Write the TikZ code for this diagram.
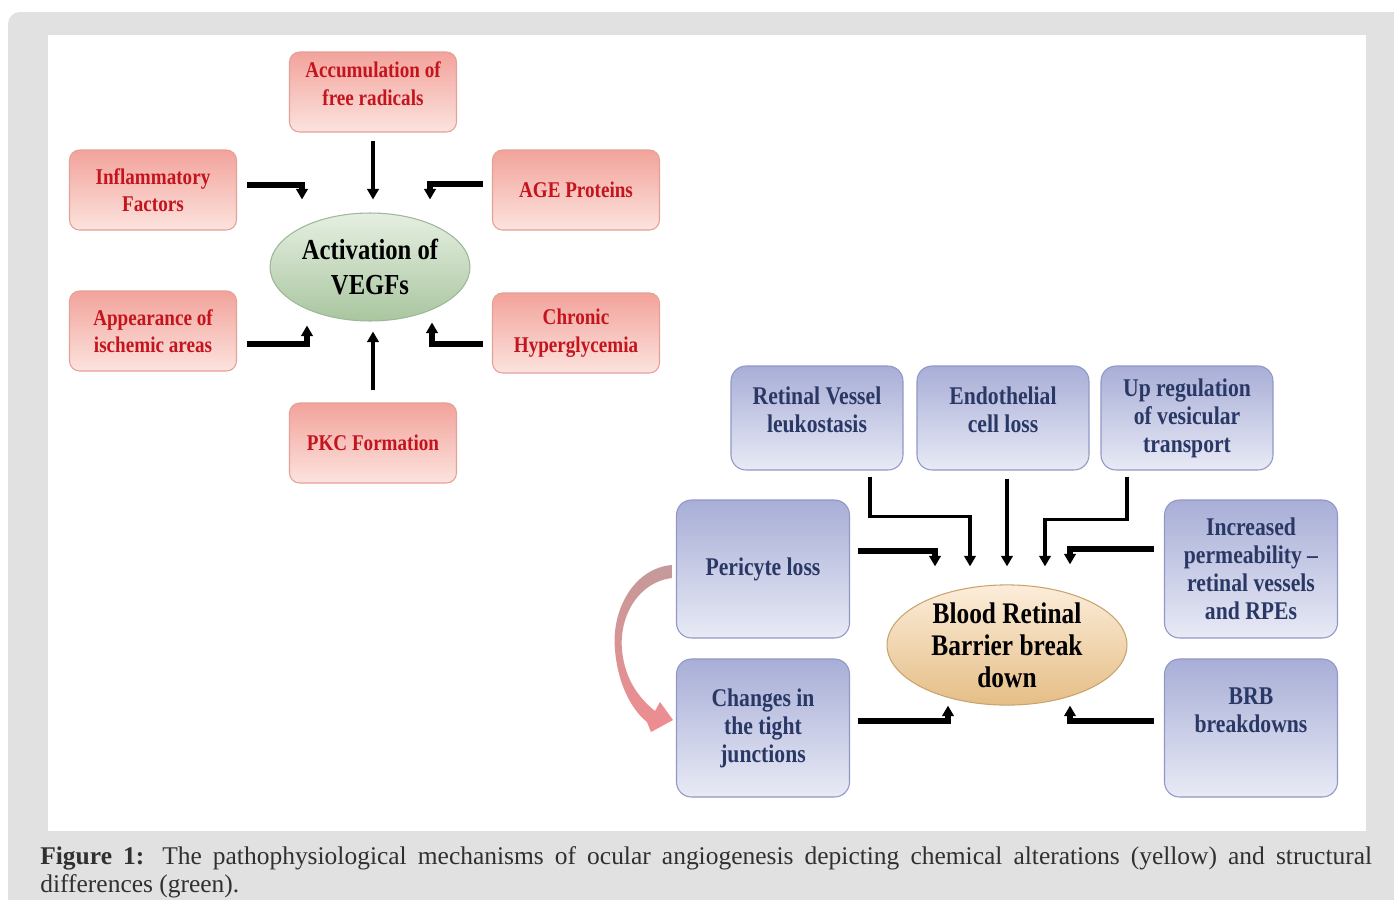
\documentclass[tikz,border=0pt]{standalone}
\usepackage{fontspec}
\setmainfont{Liberation Serif}
\newfontfamily\boxfont{Liberation Serif}[FakeStretch=0.85]
\usetikzlibrary{arrows.meta,positioning,shapes.geometric,calc}
\definecolor{framegray}{HTML}{E1E1E1}
\definecolor{redtop}{HTML}{F2A39B}
\definecolor{redbot}{HTML}{FCE3DE}
\definecolor{redline}{HTML}{E4A197}
\definecolor{redtext}{HTML}{C4141E}
\definecolor{bluetop}{HTML}{A8AED7}
\definecolor{bluebot}{HTML}{E8EAF5}
\definecolor{blueline}{HTML}{8F98C6}
\definecolor{bluetext}{HTML}{2A3866}
\definecolor{greentop}{HTML}{E6EFE2}
\definecolor{greenbot}{HTML}{A9C69F}
\definecolor{greenline}{HTML}{9DB797}
\definecolor{tantop}{HTML}{FCEDDA}
\definecolor{tanbot}{HTML}{E5BE86}
\definecolor{tanline}{HTML}{C7A46E}
\definecolor{pinktop}{HTML}{C49A9A}
\definecolor{pinkbot}{HTML}{F08C90}
\definecolor{captext}{HTML}{303030}
\tikzset{
  redbox/.style={rectangle, rounded corners=0.2cm, draw=redline, line width=0.6pt,
    top color=redtop, bottom color=redbot, minimum width=3.34cm, minimum height=1.6cm,
    align=center, text=redtext, font=\boxfont\bfseries\fontsize{12.8}{15.6}\selectfont},
  bluebox/.style={rectangle, rounded corners=0.3cm, draw=blueline, line width=0.6pt,
    top color=bluetop, bottom color=bluebot, minimum width=3.44cm, minimum height=2.08cm,
    align=center, text=bluetext, font=\boxfont\bfseries\fontsize{14.5}{15.9}\selectfont},
  bigblue/.style={bluebox, minimum width=3.46cm, minimum height=2.76cm},
  vegfell/.style={ellipse, draw=greenline, line width=0.6pt, top color=greentop,
    bottom color=greenbot, minimum width=4cm, minimum height=2.16cm, inner sep=0pt,
    align=center, font=\boxfont\bfseries\fontsize{16.5}{19.8}\selectfont},
  brbell/.style={ellipse, draw=tanline, line width=0.6pt, top color=tantop,
    bottom color=tanbot, minimum width=4.8cm, minimum height=2.2cm, inner sep=0pt,
    align=center, font=\boxfont\bfseries\fontsize{17}{18.2}\selectfont},
  arr/.style={draw=black, line width=2pt, -{Triangle[length=6pt,width=6.5pt]}},
  arrthick/.style={arr, line width=3pt},
}

\begin{document}
\begin{tikzpicture}[x=0.02cm, y=-0.02cm]
  \useasboundingbox (0,0) rectangle (1394,900);
  % frame
  \fill[framegray, rounded corners=0.24cm] (8,12) rectangle (1430,940);
  \fill[white] (48,35) rectangle (1366,831);

  % chemical side
  \node[vegfell] (vegf) at (370,267) {Activation of\\VEGFs};
  \node[redbox] (acc) at (373,92) {Accumulation of\\free radicals\\[-6pt]};
  \node[redbox] (infl) at (153,190) {Inflammatory\\Factors};
  \node[redbox] (age) at (576,190) {AGE Proteins};
  \node[redbox] (isch) at (153,331) {Appearance of\\ischemic areas};
  \node[redbox] (hyper) at (576,333) {Chronic\\Hyperglycemia};
  \node[redbox] (pkc) at (373,443) {PKC Formation};

  \draw[arr, shorten <=0.16cm, shorten >=0.26cm] (acc.south) -- (acc.south |- vegf.north);
  \draw[arr, shorten <=0.24cm, shorten >=0.2cm] (pkc.north) -- (pkc.north |- vegf.south);
  \draw[arrthick] ($(infl.east)+(10,-5)$) -| ($(vegf.north)+(-68,-13)$);
  \draw[arrthick] ($(age.west)+(-9,-6)$) -| ($(vegf.north)+(60,-13)$);
  \draw[arrthick] ($(isch.east)+(10,13)$) -| ($(vegf.south)+(-63,4)$);
  \draw[arrthick] ($(hyper.west)+(-9,11)$) -| ($(vegf.south)+(62,1)$);

  % structural side
  \node[brbell] (brb) at (1007,645) {Blood Retinal\\Barrier break\\down};
  \node[bluebox] (rv) at (817,418) {Retinal Vessel\\leukostasis\\[-6pt]};
  \node[bluebox] (endo) at (1003,418) {Endothelial\\cell loss\\[-6pt]};
  \node[bluebox] (upreg) at (1187,418) {Up regulation\\of vesicular\\transport};
  \node[bigblue] (peri) at (763,569) {Pericyte loss};
  \node[bigblue] (tight) at (763,728) {Changes in\\the tight\\junctions};
  \node[bigblue] (perm) at (1251,569) {Increased\\permeability –\\retinal vessels\\and RPEs};
  \node[bigblue] (brbd) at (1251,728) {BRB\\breakdowns\\[4pt]};

  \draw[arr] ($(rv.south)+(53,6)$) |- ($(brb.north)+(-37,-68)$) -- ($(brb.north)+(-37,-18)$);
  \draw[arr] ($(endo.south)+(4,8)$) -- ($(brb.north)+(0,-18)$);
  \draw[arr] ($(upreg.south)+(-60,6)$) |- ($(brb.north)+(38,-65)$) -- ($(brb.north)+(38,-18)$);
  \draw[arrthick] ($(peri.east)+(8,-18)$) -| ($(brb.north)+(-72,-18)$);
  \draw[arrthick] ($(perm.west)+(-10,-20)$) -| ($(brb.north)+(63,-20)$);
  \draw[arrthick] ($(tight.east)+(8,-7)$) -| ($(brb.south)+(-59,0)$);
  \draw[arrthick] ($(brbd.west)+(-10,-7)$) -| ($(brb.south)+(63,0)$);

  % pericyte -> tight junctions
  \begin{scope}[shift={(peri.west)}]
    \shade[top color=pinktop, bottom color=pinkbot]
      (-4,-4) .. controls (-42,-1) and (-65,41) .. (-61,81)
      .. controls (-58,116) and (-44,141) .. (-29,153)
      -- (-25,163) -- (-3,151) -- (-16,133) -- (-21,142)
      .. controls (-37,129) and (-51,111) .. (-54,81)
      .. controls (-57,46) and (-37,13) .. (-4,9) -- cycle;
  \end{scope}

  % caption
  \node[anchor=north west, text width=26.64cm, align=justify, inner sep=0pt, text=captext,
    font=\fontsize{14.5}{16}\selectfont] (cap) at (40,846)
    {\textbf{Figure 1:} The pathophysiological mechanisms of ocular angiogenesis depicting chemical alterations (yellow) and structural\linebreak differences (green).};
\end{tikzpicture}
\end{document}
